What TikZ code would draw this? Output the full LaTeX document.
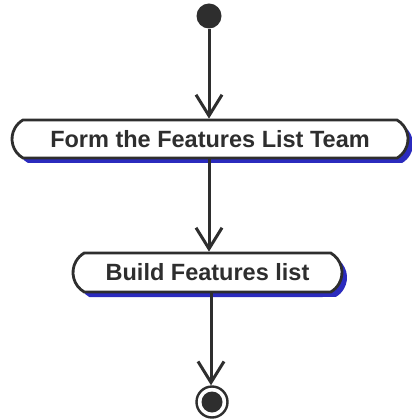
\documentclass[tikz,border=0pt]{standalone}
\usepackage{fontspec}
\setmainfont{Liberation Sans}
\usetikzlibrary{arrows.meta,shadows,shapes.misc}
\definecolor{ink}{HTML}{2E2E2E}
\definecolor{shadowblue}{HTML}{2B2BBE}
\begin{document}
\begin{tikzpicture}[x=1pt,y=1pt,
  activity/.style={draw=ink, line width=2.8pt, fill=white, rounded rectangle,
    rounded rectangle arc length=120,
    inner sep=0pt, font=\fontsize{23.5}{28}\selectfont\bfseries, text=ink,
    drop shadow={shadow xshift=5pt, shadow yshift=-5pt, fill=shadowblue, opacity=1}},
  flow/.style={draw=ink, line width=3pt, -{Straight Barb[length=21pt,width=26pt,line width=3pt]}},
  startdot/.style={circle, fill=ink, minimum size=25pt, inner sep=0pt},
  enddot/.style={circle, draw=ink, line width=2.4pt, fill=white, minimum size=31pt, inner sep=0pt,
    path picture={\fill[ink] (path picture bounding box.center) circle (10.5pt);}}
]
\useasboundingbox[fill=white] (0,0) rectangle (411,-419);
\node[startdot] (start) at (209,-16) {};
\node[activity, minimum width=396pt, minimum height=38pt] (a1) at (210,-139) {Form the Features List Team};
\node[activity, minimum width=269pt, minimum height=39pt] (a2) at (207.5,-272.5) {Build Features list};
\node[enddot] (end) at (212,-402) {};
\draw[flow] (start) -- (start |- a1.north);
\draw[flow] (a1.south -| 209,0) -- (a2.north -| 209,0);
\draw[flow] (a2.south -| 211,0) -- (end.north -| 211,0);
\end{tikzpicture}
\end{document}
